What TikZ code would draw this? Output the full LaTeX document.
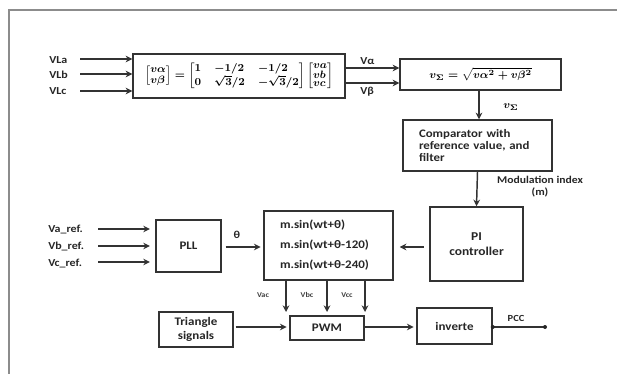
\documentclass[tikz,border=0pt]{standalone}
\usepackage{amsmath}
\usepackage{fontspec}
\usetikzlibrary{arrows.meta}
\newfontfamily\calfont[FakeStretch=1.12]{Carlito}

% equations of the two upper blocks
\newsavebox{\clarkebox}
\newsavebox{\magbox}
\newsavebox{\magsymbox}

\tikzset{
  blk/.style={draw=black!80, line width=1.1pt, inner sep=0pt,
    font=\calfont\bfseries\fontsize{8.7}{10}\selectfont, text=black!85},
  lbl/.style={inner sep=0.75pt, font=\calfont\bfseries\fontsize{8}{9}\selectfont, text=black!85},
  tinylbl/.style={inner sep=0.75pt, font=\calfont\bfseries\fontsize{5.5}{6}\selectfont, text=black!75},
  sig/.style={draw=black!80, line width=1.1pt, -{Stealth[length=5pt,width=5pt]}},
  wire/.style={draw=black!80, line width=1pt},
}

\begin{document}
\sbox{\clarkebox}{\fontsize{8}{8}\selectfont\boldmath\renewcommand\arraystretch{0.95}$\left[\begin{array}{@{}l@{}}v\alpha\\ v\beta\end{array}\right]
  =\left[\begin{array}{@{}l@{\hspace{10pt}}l@{\hspace{10pt}}l@{}}1 & -1/2 & -1/2\\ 0 & \sqrt{3}/2 & -\sqrt{3}/2\end{array}\right]
  \renewcommand\arraystretch{0.8}\left[\begin{array}{@{}l@{}}va\\ vb\\ vc\end{array}\right]$}
\sbox{\magbox}{\fontsize{8.5}{9}\selectfont\boldmath$v_{\Sigma}=\sqrt{v\alpha^{2}+v\beta^{2}}$}
\sbox{\magsymbox}{\fontsize{8.5}{9}\selectfont\boldmath$v_{\Sigma}$}
\begin{tikzpicture}[x=0.75pt,y=0.75pt,yscale=-1,xscale=1]
\useasboundingbox (0,0) rectangle (617,374);

%Straight Lines (page frame)
\draw [color=black!45, line width=0.8pt] (9,374) -- (9,10) -- (617,10) ;

%Shape: Rectangle (Clarke transform)
\node [blk, minimum width=159pt, minimum height=33pt] (mat) at (239,76) {\usebox{\clarkebox}};
%Shape: Rectangle (magnitude)
\node [blk, minimum width=120.75pt, minimum height=23.25pt] (vs) at (480.5,74.5) {\usebox{\magbox}};
%Shape: Rectangle (comparator)
\node [blk, minimum width=111.75pt, minimum height=38.25pt, text width=87.75pt, align=left,
  font=\calfont\bfseries\fontsize{8.6}{9.3}\selectfont] (comp) at (477.5,145.5)
  {Comparator with\\reference value, and\\filter};
%Shape: Rectangle (PI)
\node [blk, minimum width=69.75pt, minimum height=55.5pt, align=center,
  font=\calfont\bfseries\fontsize{9}{11}\selectfont] (pi) at (476.5,244) {PI\\controller};
%Shape: Rectangle (sine references)
\node [blk, minimum width=96.75pt, minimum height=51.75pt, text width=72.75pt, align=left,
  font=\calfont\bfseries\fontsize{8.7}{15}\selectfont] (sinb) at (328.5,245.5)
  {m.sin(wt+θ)\\m.sin(wt+θ-120)\\m.sin(wt+θ-240)};
%Shape: Rectangle (PLL)
\node [blk, minimum width=48.75pt, minimum height=39pt] (pll) at (188.5,246) {PLL};
%Shape: Rectangle (triangle)
\node [blk, minimum width=55.5pt, minimum height=26.25pt, align=center] (tri) at (196,329.5) {Triangle\\signals};
%Shape: Rectangle (PWM)
\node [blk, minimum width=55.5pt, minimum height=18pt] (pwm) at (327,328) {PWM};
%Shape: Rectangle (inverter)
\node [blk, minimum width=56.25pt, minimum height=27pt] (inv) at (454.5,326) {inverte};

% Text Node
\node [lbl, anchor=west] (vla) at (48,60) {VLa};
\node [lbl, anchor=west] (vlb) at (48,75) {VLb};
\node [lbl, anchor=west] (vlc) at (48,91) {VLc};
\node [lbl, anchor=west] (val) at (359,61) {Vα};
\node [lbl, anchor=west] (vbe) at (359,92) {Vβ};
\node [inner sep=0.75pt, text=black!85] (vsig) at (511,107) {\usebox{\magsymbox}};
\node [lbl, align=center, font=\calfont\bfseries\fontsize{7.8}{9}\selectfont] (mod) at (540,187) {Modulation index\\(m)};
\node [lbl, anchor=west] (var) at (47,230) {Va\_ref.};
\node [lbl, anchor=west] (vbr) at (47,247) {Vb\_ref.};
\node [lbl, anchor=west] (vcr) at (47,264) {Vc\_ref.};
\node [lbl] (th) at (237,235) {θ};
\node [tinylbl] (vac) at (263,295) {Vac};
\node [tinylbl] (vbc) at (307,295) {Vbc};
\node [tinylbl] (vcc) at (347,295) {Vcc};
\node [lbl, font=\calfont\bfseries\fontsize{7}{8}\selectfont] (pcc) at (516,318) {PCC};

% free ends and rows
\coordinate (ina) at (80,59);
\coordinate (inb) at (80,74);
\coordinate (inc) at (80,91);
\coordinate (outa) at (0,68);
\coordinate (outb) at (0,83);
\coordinate (colv) at (479,0);
\coordinate (rowpi) at (0,247);
\coordinate (rfa) at (98,229);
\coordinate (rfb) at (98,246);
\coordinate (rfc) at (98,262);
\coordinate (ta) at (286,312);
\coordinate (tb) at (327,312);
\coordinate (tc) at (365,312);
\coordinate (rowpwm) at (0,327);
\coordinate (pccend) at (545,327);

%Straight Lines
\draw [sig] (ina) -- (ina -| mat.west) ;
\draw [sig] (inb) -- (inb -| mat.west) ;
\draw [sig] (inc) -- (inc -| mat.west) ;
\draw [sig] (mat.east |- outa) -- (vs.west |- outa) ;
\draw [sig] (mat.east |- outb) -- (vs.west |- outb) ;
\draw [sig] (vs.south -| colv) -- (comp.north -| colv) ;
\draw [sig] (comp.south) -- (pi.north) ;
\draw [sig, shorten <=4pt, shorten >=4.5pt] (pi.west |- rowpi) -- (sinb.east |- rowpi) ;
\draw [sig, shorten >=4pt] (rfa) -- (rfa -| pll.west) ;
\draw [sig, shorten >=4pt] (rfb) -- (rfb -| pll.west) ;
\draw [sig, shorten >=4pt] (rfc) -- (rfc -| pll.west) ;
\draw [sig, shorten <=3pt, shorten >=2pt] (pll.east |- rowpi) -- (sinb.west |- rowpi) ;
\draw [sig] (sinb.south -| ta) -- (ta) ;
\draw [sig] (sinb.south -| tb) -- (tb) ;
\draw [sig] (sinb.south -| tc) -- (tc) ;
\draw [sig, shorten <=1.5pt, shorten >=2pt] (tri.east |- rowpwm) -- (pwm.west |- rowpwm) ;
\draw [sig, shorten >=2pt] (pwm.east |- rowpwm) -- (inv.west |- rowpwm) ;
\draw [wire] (inv.east |- rowpwm) -- (pccend) ;
\fill [black!85] (inv.east |- rowpwm) circle (2) (pccend) circle (2) ;

\end{tikzpicture}
\end{document}
